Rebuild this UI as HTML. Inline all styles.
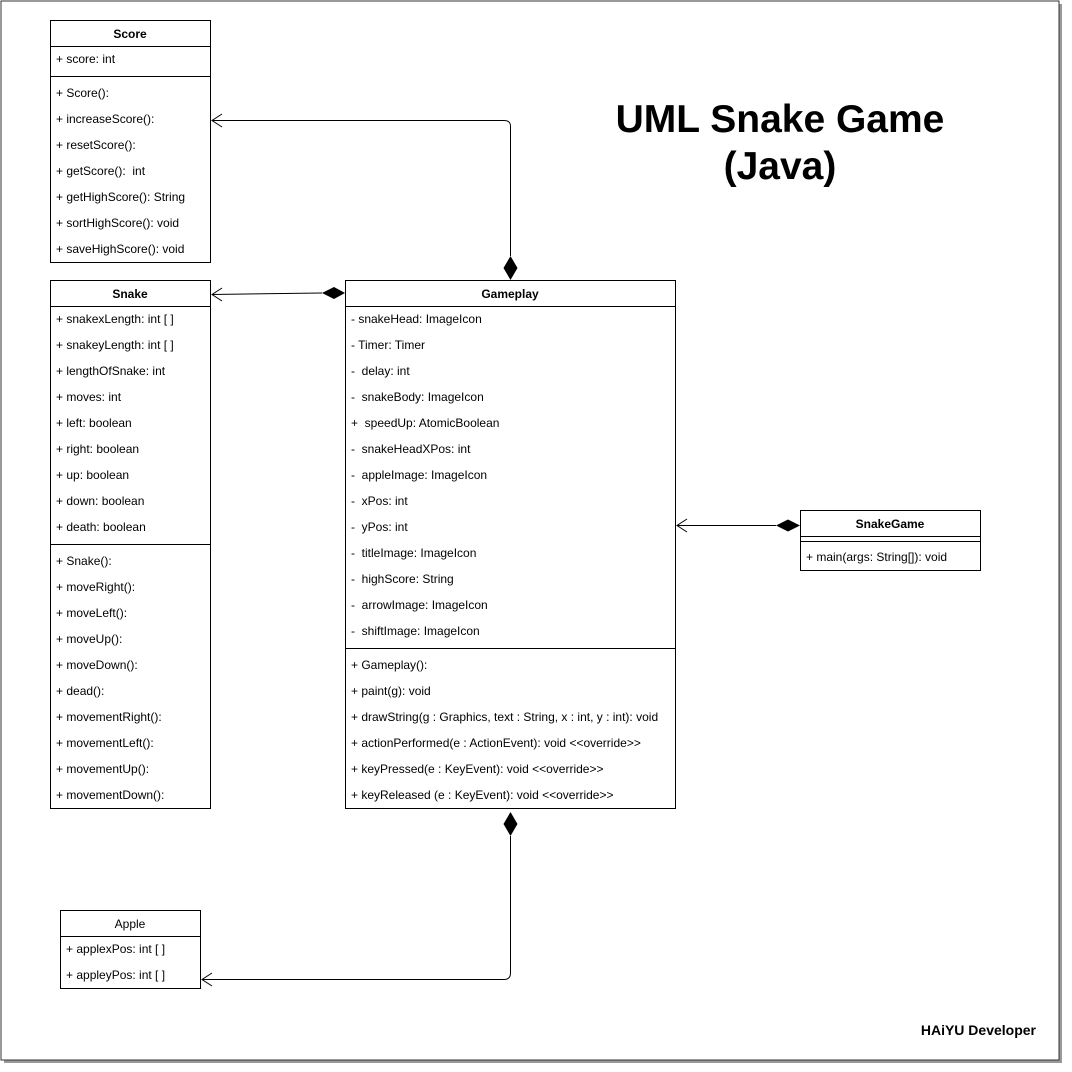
<!DOCTYPE html>
<html><head><style>body{margin:0;background:#fff}svg{display:block}text{font-family:"Liberation Sans",Arial,sans-serif;font-size:12px;fill:#000;white-space:pre}</style></head><body>
<svg width="1072" height="1072" xmlns="http://www.w3.org/2000/svg" xml:space="preserve">
<rect x="4" y="4" width="1058" height="1059" fill="#999"/>
<rect x="1" y="1" width="1058" height="1059" fill="#fff" stroke="#333" stroke-width="1"/>
<g fill="none" stroke="#000" stroke-width="1">
<rect x="50.5" y="20.5" width="160" height="242" fill="#fff"/>
<line x1="50" y1="46.5" x2="210" y2="46.5"/><line x1="50" y1="76.5" x2="210" y2="76.5"/>
<rect x="50.5" y="280.5" width="160" height="528" fill="#fff"/>
<line x1="50" y1="306.5" x2="210" y2="306.5"/><line x1="50" y1="544.5" x2="210" y2="544.5"/>
<rect x="345.5" y="280.5" width="330" height="528" fill="#fff"/>
<line x1="345" y1="306.5" x2="675" y2="306.5"/><line x1="345" y1="648.5" x2="675" y2="648.5"/>
<rect x="800.5" y="510.5" width="180" height="60" fill="#fff"/>
<line x1="800" y1="536.5" x2="980" y2="536.5"/><line x1="800" y1="541.5" x2="980" y2="541.5"/>
<rect x="60.5" y="910.5" width="140" height="78" fill="#fff"/>
<line x1="60" y1="936.5" x2="200" y2="936.5"/>
<path d="M510.5 256 V126 Q510.5 120.5 504 120.5 H212"/>
<path d="M222 114 L212 120.5 L222 127"/>
<path d="M322 293 L212 294.5"/>
<path d="M222 288 L212 294.5 L222 301"/>
<path d="M776 525.5 H677"/>
<path d="M687 519 L677 525.5 L687 532"/>
<path d="M510.5 836 V973 Q510.5 979.5 504 979.5 H202"/>
<path d="M212 973 L202 979.5 L212 986"/>
</g>
<g fill="#000">
<path d="M510.5 280 L503.5 268 L510.5 256 L517.5 268 Z"/>
<path d="M345 293 L334 299 L322 293 L334 287 Z"/>
<path d="M800 525.5 L788 531.5 L776 525.5 L788 519.5 Z"/>
<path d="M510.5 812 L503.5 824 L510.5 836 L517.5 824 Z"/>
</g>
<text x="130" y="38" text-anchor="middle" font-weight="bold">Score</text>
<text x="56" y="63">+ score: int</text>
<text x="56" y="97">+ Score():</text>
<text x="56" y="123">+ increaseScore():</text>
<text x="56" y="149">+ resetScore():</text>
<text x="56" y="175">+ getScore():  int</text>
<text x="56" y="201">+ getHighScore(): String</text>
<text x="56" y="227">+ sortHighScore(): void</text>
<text x="56" y="253">+ saveHighScore(): void</text>
<text x="130" y="298" text-anchor="middle" font-weight="bold">Snake</text>
<text x="56" y="323">+ snakexLength: int [ ]</text>
<text x="56" y="349">+ snakeyLength: int [ ]</text>
<text x="56" y="375">+ lengthOfSnake: int</text>
<text x="56" y="401">+ moves: int</text>
<text x="56" y="427">+ left: boolean</text>
<text x="56" y="453">+ right: boolean</text>
<text x="56" y="479">+ up: boolean</text>
<text x="56" y="505">+ down: boolean</text>
<text x="56" y="531">+ death: boolean</text>
<text x="56" y="565">+ Snake():</text>
<text x="56" y="591">+ moveRight():</text>
<text x="56" y="617">+ moveLeft():</text>
<text x="56" y="643">+ moveUp():</text>
<text x="56" y="669">+ moveDown():</text>
<text x="56" y="695">+ dead():</text>
<text x="56" y="721">+ movementRight():</text>
<text x="56" y="747">+ movementLeft():</text>
<text x="56" y="773">+ movementUp():</text>
<text x="56" y="799">+ movementDown():</text>
<text x="510" y="298" text-anchor="middle" font-weight="bold">Gameplay</text>
<text x="351" y="323">- snakeHead: ImageIcon</text>
<text x="351" y="349">- Timer: Timer</text>
<text x="351" y="375">-  delay: int</text>
<text x="351" y="401">-  snakeBody: ImageIcon</text>
<text x="351" y="427">+  speedUp: AtomicBoolean</text>
<text x="351" y="453">-  snakeHeadXPos: int</text>
<text x="351" y="479">-  appleImage: ImageIcon</text>
<text x="351" y="505">-  xPos: int</text>
<text x="351" y="531">-  yPos: int</text>
<text x="351" y="557">-  titleImage: ImageIcon</text>
<text x="351" y="583">-  highScore: String</text>
<text x="351" y="609">-  arrowImage: ImageIcon</text>
<text x="351" y="635">-  shiftImage: ImageIcon</text>
<text x="351" y="669">+ Gameplay():</text>
<text x="351" y="695">+ paint(g): void</text>
<text x="351" y="721">+ drawString(g : Graphics, text : String, x : int, y : int): void</text>
<text x="351" y="747">+ actionPerformed(e : ActionEvent): void &lt;&lt;override&gt;&gt;</text>
<text x="351" y="773">+ keyPressed(e : KeyEvent): void &lt;&lt;override&gt;&gt;</text>
<text x="351" y="799">+ keyReleased (e : KeyEvent): void &lt;&lt;override&gt;&gt;</text>
<text x="890" y="528" text-anchor="middle" font-weight="bold">SnakeGame</text>
<text x="806" y="561">+ main(args: String[]): void</text>
<text x="130" y="928" text-anchor="middle">Apple</text>
<text x="66" y="953">+ applexPos: int [ ]</text>
<text x="66" y="979">+ appleyPos: int [ ]</text>
<text x="780" y="132" text-anchor="middle" font-weight="bold" style="font-size:39px">UML Snake Game</text>
<text x="780" y="179" text-anchor="middle" font-weight="bold" style="font-size:39px">(Java)</text>
<text x="1036" y="1035" text-anchor="end" font-weight="bold" style="font-size:14px">HAiYU Developer</text>
</svg>
</body></html>
